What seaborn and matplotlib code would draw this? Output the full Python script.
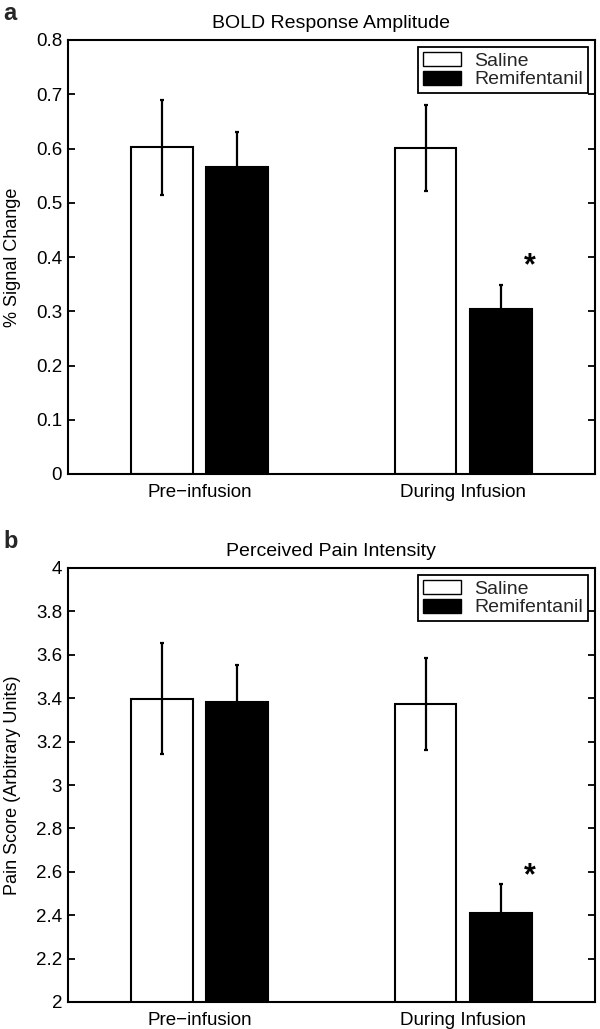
import numpy as np
import pandas as pd
import matplotlib
matplotlib.use("Agg")
import matplotlib.pyplot as plt
import matplotlib.patches as mpatches
import seaborn as sns

# ---- data ----
conditions = ["Pre\u2212infusion", "During Infusion"]
treatments = ["Saline", "Remifentanil"]

bold_saline = [0.602, 0.601]
bold_remi = [0.566, 0.304]
bold_saline_err = [0.087, 0.080]
bold_remi_err = [0.064, 0.044]

pain_saline = [3.398, 3.375]
pain_remi = [3.384, 2.410]
pain_saline_err = [0.255, 0.212]
pain_remi_err = [0.170, 0.136]

titles = ["BOLD Response Amplitude", "Perceived Pain Intensity"]
ylabels = ["% Signal Change", "Pain Score (Arbitrary Units)"]
panel_letters = ["a", "b"]
ylims = [(0, 0.8), (2, 4)]
ysteps = [0.1, 0.2]
bar_colors = ["white", "black"]

sns.set_theme(style="white")
plt.rcParams["font.family"] = ["Liberation Sans", "DejaVu Sans"]

fig = plt.figure(figsize=(6.0, 10.29), dpi=100)
W, H = 600, 1029
ax_top = fig.add_axes([67.7 / W, 1 - 474 / H, (595 - 67.7) / W, (474 - 40) / H])
ax_bot = fig.add_axes([67.7 / W, 1 - 1002 / H, (595 - 67.7) / W, (1002 - 568) / H])

panels = [
    (ax_top, bold_saline, bold_remi, bold_saline_err, bold_remi_err),
    (ax_bot, pain_saline, pain_remi, pain_saline_err, pain_remi_err),
]

fs = 13.5
for i, (ax, sal, rem, sal_e, rem_e) in enumerate(panels):
    df = pd.DataFrame({
        "Condition": conditions * 2,
        "Treatment": [treatments[0]] * 2 + [treatments[1]] * 2,
        "Value": list(sal) + list(rem),
    })
    sns.barplot(data=df, x="Condition", y="Value", hue="Treatment",
                order=conditions, hue_order=treatments,
                palette=bar_colors, edgecolor="black", linewidth=1.5,
                width=0.57, gap=0.18, errorbar=None, ax=ax, legend=False)
    # error bars at bar centers
    for cont, vals, errs in zip(ax.containers, [sal, rem], [sal_e, rem_e]):
        xs = [p.get_x() + p.get_width() / 2 for p in cont.patches]
        ax.errorbar(xs, vals, yerr=errs, fmt="none", ecolor="black",
                    elinewidth=1.6, capsize=1.6, capthick=1.6, zorder=5)
    ax.set_ylim(*ylims[i])
    ax.set_xlim(-0.5, 1.5)
    ax.set_yticks(np.round(np.arange(ylims[i][0], ylims[i][1] + 1e-9, ysteps[i]), 2))
    ax.yaxis.set_major_formatter(matplotlib.ticker.FuncFormatter(lambda v, p: f"{v:g}"))
    ax.tick_params(axis="y", direction="in", length=5, width=1.3, left=True,
                   right=True, labelsize=fs, pad=4, colors="black")
    ax.tick_params(axis="x", length=0, labelsize=fs, pad=7, colors="black")
    for s in ax.spines.values():
        s.set_visible(True)
        s.set_color("black")
        s.set_linewidth(1.5)
    ax.set_xlabel("")
    ax.set_ylabel(ylabels[i], fontsize=fs - 0.5, color="black")
    ax.yaxis.set_label_coords((21 - 67.7) / (595 - 67.7), 0.5)
    ax.set_title(titles[i], fontsize=14, pad=9, color="black")

    # significance star next to remifentanil bar during infusion
    rb = ax.containers[1].patches[1]
    xr = rb.get_x() + rb.get_width() / 2
    star_y = rem[1] + rem_e[1] + (0.035 if i == 0 else 0.032)
    ax.text(xr + 0.11, star_y, "*", fontsize=22, ha="center", va="center",
            color="black", fontweight="bold")

    handles = [mpatches.Patch(facecolor=c, edgecolor="black", linewidth=1.0, label=t)
               for c, t in zip(bar_colors, treatments)]
    leg = ax.legend(handles=handles, loc="upper right", fontsize=14,
                    frameon=True, fancybox=False, framealpha=1,
                    edgecolor="black", borderaxespad=0.35, handlelength=1.95,
                    handleheight=0.75, handletextpad=0.7, borderpad=0.25,
                    labelspacing=0.05)
    leg.get_frame().set_linewidth(1.3)

fig.text(3 / W, 1 - 2 / H, panel_letters[0], fontsize=17, fontweight="bold",
         va="top", ha="left")
fig.text(3 / W, 1 - 530 / H, panel_letters[1], fontsize=17, fontweight="bold",
         va="top", ha="left")

fig.savefig("out.png", dpi=100, facecolor="white")
